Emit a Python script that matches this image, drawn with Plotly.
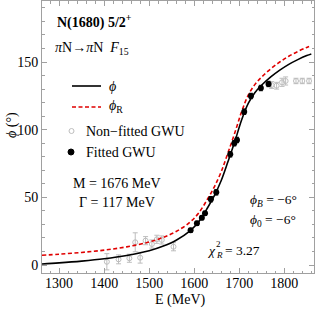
import plotly.graph_objects as go

# ---------------- data ----------------
curve_E = [1262, 1300, 1350, 1400, 1450, 1500, 1530, 1560, 1590, 1610, 1630, 1645,
           1660, 1675, 1690, 1705, 1720, 1735, 1750, 1770, 1790, 1810, 1830, 1850, 1860]
phi_total = [0.8, 1.6, 2.9, 4.6, 7.0, 10.5, 13.8, 18.3, 25.0, 32.0, 42.5, 51.5,
             62.5, 76.5, 91.0, 107.0, 119.5, 127.5, 133.0, 139.0, 144.0, 148.3, 151.8, 154.8, 156.0]
phi_res = [7.2, 8.0, 9.3, 11.0, 13.4, 17.0, 20.3, 24.8, 31.5, 38.5, 49.0, 58.0,
           69.0, 83.0, 97.5, 113.0, 125.5, 133.5, 139.0, 145.0, 150.0, 154.3, 157.8, 160.8, 162.0]

fit_E = [1592, 1606, 1617, 1624, 1637, 1649, 1680, 1689, 1695, 1711, 1726, 1748, 1765]
fit_phi = [25.6, 30.8, 34.9, 38.2, 48.6, 53.7, 81.8, 90.0, 92.4, 113.3, 124.9, 130.8, 133.8]
fit_err = [1.5, 1.5, 1.5, 1.5, 2.0, 2.0, 2.0, 2.0, 2.0, 2.0, 2.0, 2.0, 2.0]

nonfit_E = [1406, 1432, 1456, 1469, 1480, 1492, 1506, 1517, 1528, 1554,
            1772, 1783, 1795, 1803, 1826, 1840, 1855]
nonfit_phi = [2.4, 4.2, 5.0, 16.8, 5.4, 18.0, 15.5, 19.0, 18.5, 13.5,
              133.0, 132.5, 135.0, 136.0, 136.0, 136.0, 136.0]
nonfit_err = [6.0, 3.3, 3.0, 7.0, 4.0, 3.0, 3.0, 3.0, 3.0, 3.0,
              2.5, 2.5, 3.0, 3.0, 2.0, 2.0, 2.0]

x_ticks = [1300, 1400, 1500, 1600, 1700, 1800]
y_ticks = [0, 50, 100, 150]

# ---------------- figure ----------------
W, H = 317, 310
L, R, T, B = 42, 3, 1, 37
PW, PH = W - L - R, H - T - B
FONT = "'Liberation Serif', 'Times New Roman', 'DejaVu Serif', serif"
GRAY = "#bdbdbd"
FRAME = "#a0a0a0"


def px(x):
    return (x - L) / PW


def py(y):
    return (H - B - y) / PH


fig = go.Figure()

fig.add_trace(go.Scatter(
    x=nonfit_E, y=nonfit_phi, mode="markers",
    marker=dict(symbol="circle-open", size=5, color=GRAY, line=dict(width=1)),
    error_y=dict(type="data", array=nonfit_err, color=GRAY, thickness=1, width=2.5),
    showlegend=False, hoverinfo="skip"))

fig.add_trace(go.Scatter(
    x=curve_E, y=phi_res, mode="lines", line_shape="spline",
    line=dict(color="#e00000", width=1.6, dash="4px,2.5px"), showlegend=False, hoverinfo="skip"))

fig.add_trace(go.Scatter(
    x=curve_E, y=phi_total, mode="lines", line_shape="spline",
    line=dict(color="black", width=1.6), showlegend=False, hoverinfo="skip"))

fig.add_trace(go.Scatter(
    x=fit_E, y=fit_phi, mode="markers",
    marker=dict(symbol="circle", size=6, color="black"),
    error_y=dict(type="data", array=fit_err, color="black", thickness=1, width=2),
    showlegend=False, hoverinfo="skip"))

axis_common = dict(
    showline=True, linecolor=FRAME, linewidth=1, mirror="allticks",
    ticks="inside", tickcolor=FRAME, ticklen=5, tickwidth=1,
    showgrid=False, zeroline=False,
    tickfont=dict(family=FONT, size=14, color="black"),
)

fig.update_xaxes(range=[1262, 1866], tickvals=x_ticks, ticklabelstandoff=-3,
                 minor=dict(ticks="inside", dtick=20, ticklen=2.5, tickcolor=FRAME, showgrid=False),
                 **axis_common)
fig.update_yaxes(range=[-5.9, 195.1], tickvals=y_ticks,
                 minor=dict(ticks="inside", dtick=10, ticklen=2.5, tickcolor=FRAME, showgrid=False),
                 **axis_common)

ann = []


def text(x, y, s, size=14, anchor="left", **kw):
    ann.append(dict(x=px(x), y=py(y), xref="paper", yref="paper", text=s,
                    showarrow=False, xanchor=anchor, yanchor="middle",
                    font=dict(family=FONT, size=size, color="black"), **kw))


text(55, 22, "<b>N(1680) 5/2<sup>+</sup></b>", size=14)
text(53, 48, "<i>π</i>N→<i>π</i>N  <i>F</i><sub>15</sub>")
text(107, 86, "<i>ϕ</i>")
text(107, 107, "<i>ϕ</i><sub>R</sub>")
text(84, 131, "Non−fitted GWU")
text(84, 152, "Fitted GWU")
text(117, 183, "M = 1676 MeV", anchor="center")
text(117, 202, "Γ = 117 MeV", anchor="center")
text(248, 200, "<i>ϕ<sub>B</sub></i> = −6°", size=13.5)
text(248, 220, "<i>ϕ</i><sub>0</sub> = −6°", size=13.5)
text(205, 250, "<i>χ</i>", size=13.5)
text(214, 244, "2", size=9)
text(214, 255, "<i>R</i>", size=9)
text(223, 250, "= 3.27", size=13.5)
text(180, 300, "E (MeV)", anchor="center")
ann.append(dict(x=px(12), y=py(125), xref="paper", yref="paper", text="<i>ϕ</i> (°)",
                showarrow=False, xanchor="center", yanchor="middle", textangle=-90,
                font=dict(family=FONT, size=14, color="black")))

shapes = [
    dict(type="line", xref="paper", yref="paper", x0=px(72), x1=px(101), y0=py(86), y1=py(86),
         line=dict(color="black", width=1.6)),
    dict(type="line", xref="paper", yref="paper", x0=px(72), x1=px(101), y0=py(107), y1=py(107),
         line=dict(color="#e00000", width=1.6, dash="4px,2.5px")),
    dict(type="circle", xref="paper", yref="paper", x0=px(69), x1=px(74), y0=py(128.5), y1=py(133.5),
         line=dict(color=GRAY, width=1)),
    dict(type="circle", xref="paper", yref="paper", x0=px(68), x1=px(74), y0=py(149), y1=py(155),
         line=dict(color="black", width=1), fillcolor="black"),
]

fig.update_layout(
    width=W, height=H, margin=dict(l=L, r=R, t=T, b=B, pad=0),
    paper_bgcolor="white", plot_bgcolor="white", hovermode=False,
    annotations=ann, shapes=shapes, showlegend=False,
)

fig.write_html("out.html", config={"displayModeBar": False, "staticPlot": True},
               post_script="document.body.style.margin='0';document.body.style.overflow='hidden';")
